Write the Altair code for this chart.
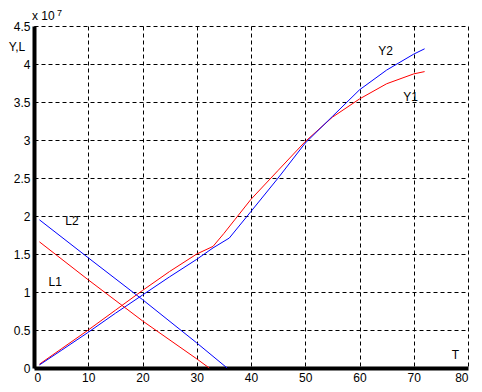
import altair as alt
import pandas as pd

# Data (values in units of 1e7)
t_y1 = [1, 5, 10, 15, 20, 25, 30, 33, 35, 37, 40, 45, 50, 55, 60, 65, 70, 72]
y1 = [0.05, 0.25, 0.50, 0.76, 1.02, 1.27, 1.50, 1.60, 1.77, 1.95, 2.22, 2.60, 2.98, 3.30, 3.54, 3.74, 3.87, 3.90]
t_y2 = [1, 5, 10, 15, 20, 25, 30, 33, 36, 40, 45, 50, 55, 60, 65, 70, 72]
y2 = [0.04, 0.23, 0.47, 0.72, 0.96, 1.20, 1.43, 1.58, 1.71, 2.06, 2.50, 2.96, 3.31, 3.66, 3.92, 4.13, 4.20]
t_l1 = [1, 10, 20, 30, 32.3]
l1 = [1.66, 1.16, 0.62, 0.12, 0.0]
t_l2 = [1, 10, 20, 30, 35.6]
l2 = [1.95, 1.45, 0.90, 0.33, 0.0]

x_ticks = list(range(0, 81, 10))
y_ticks = [0, 0.5, 1, 1.5, 2, 2.5, 3, 3.5, 4, 4.5]

rows = []
for name, ts, vs in [("Y1", t_y1, y1), ("Y2", t_y2, y2), ("L1", t_l1, l1), ("L2", t_l2, l2)]:
    for i, (t, v) in enumerate(zip(ts, vs)):
        rows.append({"series": name, "T": t, "v": v, "i": i})
df = pd.DataFrame(rows)

FONT = "Liberation Sans"

xs = alt.Scale(domain=[0, 80], nice=False, zero=False)
ys = alt.Scale(domain=[0, 4.5], nice=False)
xaxis = alt.Axis(values=x_ticks, title=None, labelOverlap=False)
yaxis = alt.Axis(values=y_ticks, title=None, format="~g", labelOverlap=False)

lines = alt.Chart(df).mark_line(strokeWidth=1).encode(
    x=alt.X("T:Q", scale=xs, axis=xaxis),
    y=alt.Y("v:Q", scale=ys, axis=yaxis),
    color=alt.Color("series:N", scale=alt.Scale(domain=["Y1", "Y2", "L1", "L2"],
                                                 range=["#ff0000", "#0000ff", "#ff0000", "#0000ff"]),
                    legend=None),
    order="i:Q",
)

def label(txt, x, y, size=12, align="center"):
    return alt.Chart(pd.DataFrame({"a": [0]})).mark_text(
        text=txt, font=FONT, fontSize=size, color="black", align=align, baseline="middle"
    ).encode(x=alt.datum(x, scale=xs, axis=xaxis), y=alt.datum(y, scale=ys, axis=yaxis))

def plabel(txt, x, y, size=12, align="left"):
    return alt.Chart(pd.DataFrame({"a": [0]})).mark_text(
        text=txt, font=FONT, fontSize=size, color="black", align=align, baseline="middle"
    ).encode(x=alt.value(x), y=alt.value(y))

chart = alt.layer(
    lines,
    label("Y2", 64.8, 4.17),
    label("Y1", 69.4, 3.56),
    label("L2", 7.0, 1.93),
    label("L1", 3.9, 1.13),
    label("T", 77.7, 0.17),
    plabel("Y,L", -17, 21, align="center"),
    plabel("x 10", -2, -10),
    plabel("7", 23, -13, size=9),
).properties(
    width=434, height=342, autosize="none",
    padding={"left": 26, "top": 18, "right": 6, "bottom": 16},
).configure_view(stroke=None).configure_axis(
    grid=True, gridColor="black", gridDash=[4, 3], gridWidth=1, gridOpacity=1,
    domainColor="black", domainWidth=4, ticks=False, labelOverlap=False,
    labelFont=FONT, labelFontSize=12, labelColor="black", labelPadding=4,
)

chart.save("out.html", embed_options={"renderer": "svg", "actions": False})
